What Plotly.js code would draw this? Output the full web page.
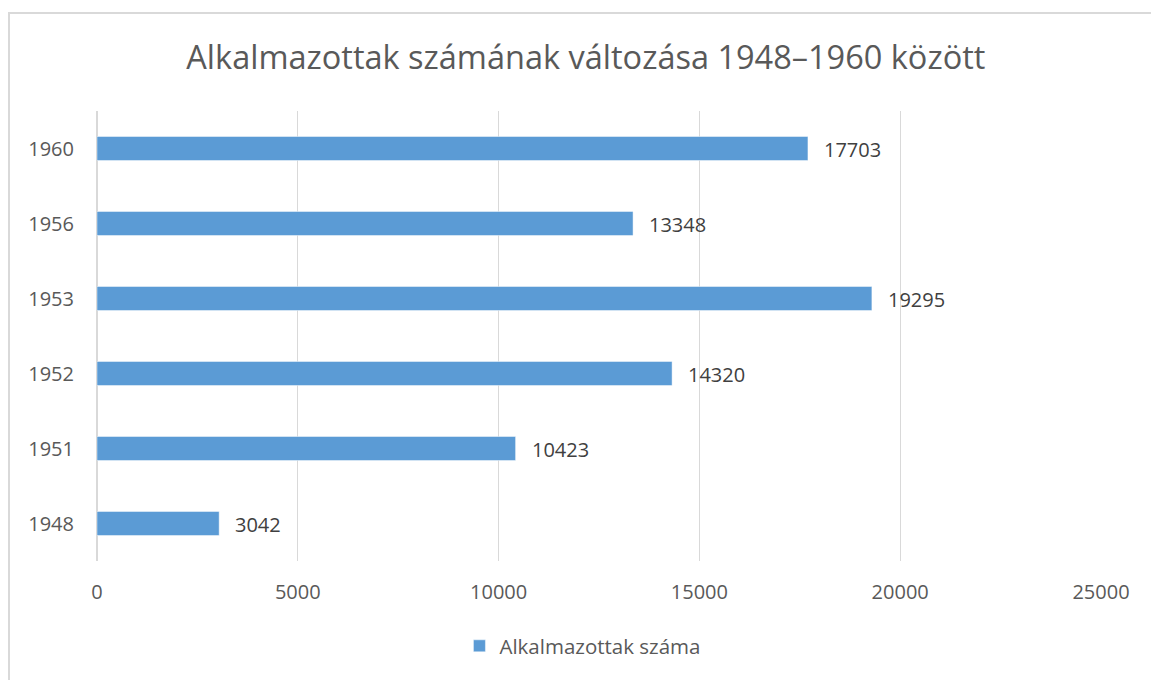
<!DOCTYPE html>
<html>
<head>
<meta charset="utf-8">
<script src="https://cdn.plot.ly/plotly-3.0.1.min.js"></script>
<style>
  html, body { margin: 0; padding: 0; background: #fff; }
  #wrap { position: relative; width: 1151px; height: 680px; overflow: hidden; }
  #chart { position: absolute; left: 0; top: 0; width: 1151px; height: 680px; }
  #frame { position: absolute; left: 8px; top: 12px; width: 1200px; height: 800px;
           border-left: 2px solid #d9d9d9; border-top: 2px solid #d9d9d9; pointer-events: none; }
</style>
</head>
<body>
<div id="wrap">
  <div id="chart"></div>
  <div id="frame"></div>
</div>
<script>
const years = ['1948', '1951', '1952', '1953', '1956', '1960'];
const employees = [3042, 10423, 14320, 19295, 13348, 17703];
const seriesName = 'Alkalmazottak száma';
const chartTitle = 'Alkalmazottak számának változása 1948–1960 között';
const xTicks = [0, 5000, 10000, 15000, 20000, 25000];

const font = '"Open Sans", "Noto Sans", sans-serif';

const trace = {
  type: 'bar',
  orientation: 'h',
  y: years,
  x: employees,
  name: seriesName,
  marker: { color: '#5B9BD5', line: { color: 'rgba(255,255,255,0.45)', width: 1 } },
  hoverinfo: 'none',
  showlegend: true
};

// category axis: annotation y given as the category's serial index
const annotations = employees.map((v, i) => ({
  x: v, y: i, xref: 'x', yref: 'y',
  text: String(v), showarrow: false,
  xanchor: 'left', yanchor: 'middle', xshift: 14, yshift: -1,
  font: { family: font, size: 20, color: '#404040' }
}));

const layout = {
  width: 1151, height: 680,
  margin: { l: 97, r: 50, t: 111, b: 119, pad: 0 },
  paper_bgcolor: '#ffffff', plot_bgcolor: '#ffffff',
  title: {
    text: chartTitle,
    font: { family: font, size: 32.5, color: '#595959' },
    x: 0.509, xref: 'container', xanchor: 'center',
    y: 0.915, yref: 'container', yanchor: 'middle'
  },
  bargap: 0.68,
  xaxis: {
    range: [0, 25000],
    tickvals: xTicks,
    ticktext: xTicks.map(String),
    showgrid: true, gridcolor: '#d9d9d9', gridwidth: 1.3,
    zeroline: true, zerolinecolor: '#d9d9d9', zerolinewidth: 1.3,
    showline: false, ticks: '',
    ticklabelstandoff: 17,
    tickfont: { family: font, size: 20, color: '#595959' },
    fixedrange: true
  },
  yaxis: {
    type: 'category',
    categoryorder: 'array', categoryarray: years,
    range: [-0.5, years.length - 0.5],
    autorange: false,
    showgrid: false, zeroline: false, showline: false, ticks: '',
    ticklabelstandoff: 22,
    tickfont: { family: font, size: 20, color: '#595959' },
    fixedrange: true
  },
  legend: {
    orientation: 'h',
    x: 0.484, xanchor: 'center', xref: 'paper',
    y: 0.05, yref: 'container', yanchor: 'middle',
    font: { family: font, size: 20.5, color: '#595959' },
    itemwidth: 30,
    bgcolor: 'rgba(0,0,0,0)'
  },
  annotations: annotations
};

Plotly.newPlot('chart', [trace], layout, { displayModeBar: false, staticPlot: true });
</script>
</body>
</html>
